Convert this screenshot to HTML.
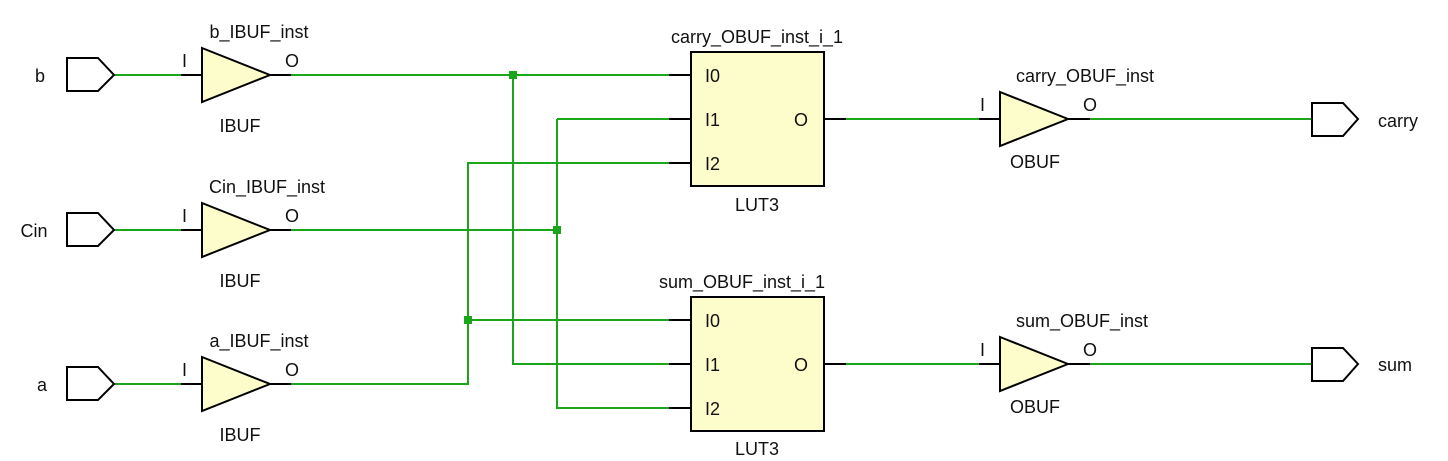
<!DOCTYPE html>
<html><head><style>body{margin:0;background:#fff}svg{display:block}text{font-family:"Liberation Sans",sans-serif;font-size:18px;fill:#111}</style></head><body>
<svg width="1448" height="461" viewBox="0 0 1448 461">
<g fill="none" stroke="#1aa51a" stroke-width="2">
<path d="M114 75H181M114 230H181M114 384H181"/>
<path d="M291 75H669M291 230H557M291 384H468V163H669M468 320H669M513 75V364H669M557 119H669M557 119V408H669"/>
<path d="M846 119H979M846 364H979M1090 119H1312M1090 364H1312"/>
</g>
<g fill="#1aa51a"><rect x="509" y="71" width="8" height="8"/><rect x="553" y="226" width="8" height="8"/><rect x="464" y="316" width="8" height="8"/></g>
<g stroke="#000" stroke-width="2" fill="none">
<path d="M181 75H202M181 230H202M181 384H202M270 75H291M270 230H291M270 384H291"/>
<path d="M669 75H691M669 119H691M669 163H691M669 320H691M669 364H691M669 408H691M824 119H846M824 364H846"/>
<path d="M979 119H1000M979 364H1000M1068 119H1090M1068 364H1090"/>
<path d="M67 58H98L114 75L98 91H67Z M67 213H98L114 230L98 246H67Z M67 367H98L114 384L98 400H67Z"/>
<path d="M1312 103H1343L1358 119L1343 136H1312Z M1312 348H1343L1358 364L1343 381H1312Z"/>
</g>
<g fill="#fdfccb" stroke="#000" stroke-width="2">
<path d="M202 48L270 75L202 102Z"/><path d="M202 203L270 230L202 257Z"/><path d="M202 357L270 384L202 411Z"/>
<path d="M1000 92L1068 119L1000 146Z"/><path d="M1000 337L1068 364L1000 391Z"/>
<rect x="691" y="52" width="133" height="134"/><rect x="691" y="297" width="133" height="134"/>
</g>
<text x="40" y="82" text-anchor="middle">b</text><text x="34" y="237" text-anchor="middle">Cin</text><text x="42" y="391" text-anchor="middle">a</text>
<g text-anchor="middle">
<text x="259" y="38">b_IBUF_inst</text><text x="240" y="132">IBUF</text>
<text x="267" y="193">Cin_IBUF_inst</text><text x="240" y="287">IBUF</text>
<text x="259" y="347">a_IBUF_inst</text><text x="240" y="441">IBUF</text>
<text x="757" y="43">carry_OBUF_inst_i_1</text><text x="757" y="211">LUT3</text>
<text x="742" y="288">sum_OBUF_inst_i_1</text><text x="757" y="455">LUT3</text>
<text x="1085" y="82">carry_OBUF_inst</text><text x="1035" y="168">OBUF</text>
<text x="1082" y="327">sum_OBUF_inst</text><text x="1035" y="413">OBUF</text>
</g>
<g>
<text x="182" y="67">I</text><text x="285" y="67">O</text>
<text x="182" y="222">I</text><text x="285" y="222">O</text>
<text x="182" y="376">I</text><text x="285" y="376">O</text>
<text x="705" y="82">I0</text><text x="705" y="126">I1</text><text x="705" y="170">I2</text><text x="794" y="126">O</text>
<text x="705" y="327">I0</text><text x="705" y="371">I1</text><text x="705" y="415">I2</text><text x="794" y="371">O</text>
<text x="980" y="111">I</text><text x="1083" y="111">O</text>
<text x="980" y="356">I</text><text x="1083" y="356">O</text>
<text x="1378" y="127">carry</text><text x="1378" y="371">sum</text>
</g>
</svg>
</body></html>
